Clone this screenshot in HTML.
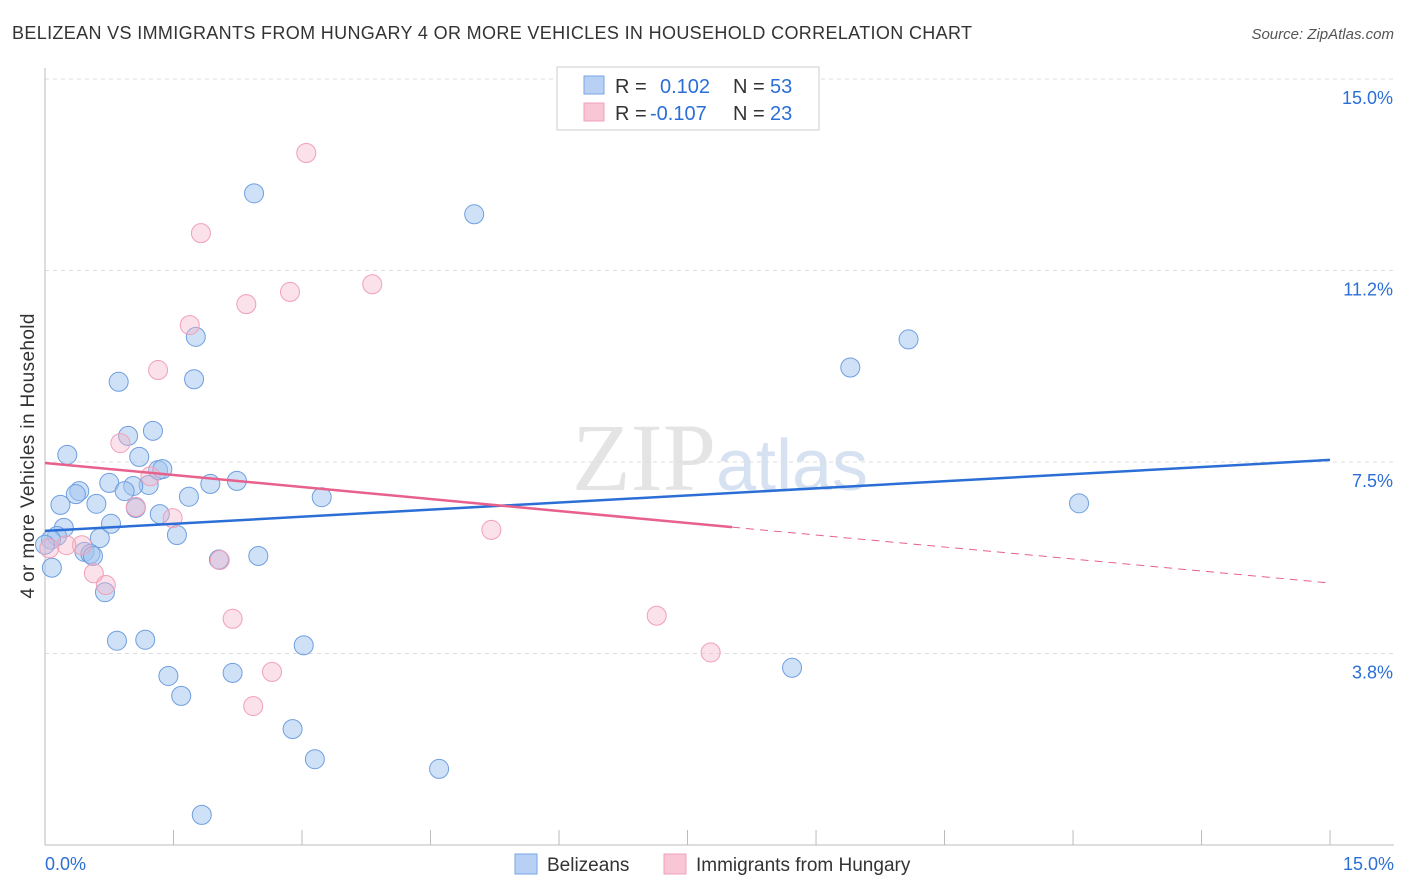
<!DOCTYPE html>
<html><head><meta charset="utf-8"><style>
body{margin:0;background:#fff;font-family:"Liberation Sans",sans-serif;}
svg{display:block}
</style></head><body>
<svg id="c" width="1406" height="892">
<text x="12" y="39" font-size="18" fill="#333" textLength="960" lengthAdjust="spacing">BELIZEAN VS IMMIGRANTS FROM HUNGARY 4 OR MORE VEHICLES IN HOUSEHOLD CORRELATION CHART</text>
<text x="1394" y="39" font-size="15" fill="#555" font-style="italic" text-anchor="end">Source: ZipAtlas.com</text>
<text x="720" y="490" font-size="96" fill="#e4e4e4" text-anchor="middle" font-family="Liberation Serif,serif">ZIP<tspan fill="#d6e2f2" font-family="Liberation Sans,sans-serif" font-size="72">atlas</tspan></text>
<text x="34" y="456" font-size="19" fill="#333" text-anchor="middle" textLength="285" transform="rotate(-90 34 456)">4 or more Vehicles in Household</text>
<g id="grid"></g><g id="marks"></g>
<g>
<rect x="557" y="67" width="262" height="63" fill="#fff" stroke="#ccc"/>
<rect x="584" y="76" width="20" height="18" fill="#b7d0f3" stroke="#7aa6e6"/>
<rect x="584" y="103" width="20" height="18" fill="#f8c6d4" stroke="#f0a0b8"/>
<text x="615" y="93" font-size="20" fill="#333">R = </text><text x="660" y="93" font-size="20" fill="#2b6fd6">0.102</text>
<text x="733" y="93" font-size="20" fill="#333">N = </text><text x="770" y="93" font-size="20" fill="#2b6fd6">53</text>
<text x="615" y="120" font-size="20" fill="#333">R = </text><text x="650" y="120" font-size="20" fill="#2b6fd6">-0.107</text>
<text x="733" y="120" font-size="20" fill="#333">N = </text><text x="770" y="120" font-size="20" fill="#2b6fd6">23</text>
</g>
<g>
<rect x="515" y="854" width="22" height="20" fill="#b7d0f3" stroke="#7aa6e6"/>
<text x="547" y="871" font-size="19" fill="#333">Belizeans</text>
<rect x="664" y="854" width="22" height="20" fill="#f8c6d4" stroke="#f0a0b8"/>
<text x="696" y="871" font-size="19" fill="#333">Immigrants from Hungary</text>
</g>
<text x="45" y="870" font-size="18" fill="#2b6fd6">0.0%</text>
<text x="1394" y="870" font-size="18" fill="#2b6fd6" text-anchor="end">15.0%</text>
</svg>
<script>
const yTicks=[15,11.25,7.5,3.75];
const yTickLabels=["15.0%","11.2%","7.5%","3.8%"];
const xTicks=[0,1.5,3,4.5,6,7.5,9,10.5,12,13.5,15];
const blueX=[2.44,5.01,10.08,9.40,1.76,0.86,1.74,0.26,0.97,1.26,1.10,1.32,1.37,1.21,0.75,1.03,0.93,0.40,0.36,0.18,0.60,1.06,1.34,1.68,1.93,2.24,3.23,12.07,0.77,0.22,0.14,0.07,0.64,1.54,0.46,0.53,0.56,2.03,2.49,0.08,0.70,0.84,1.17,3.02,8.72,1.44,2.19,1.59,2.89,3.15,4.60,1.83,0.0];
const blueY=[12.76,12.35,9.90,9.35,9.95,9.07,9.12,7.64,8.01,8.11,7.60,7.34,7.36,7.05,7.09,7.03,6.93,6.93,6.87,6.66,6.68,6.60,6.48,6.82,7.07,7.13,6.81,6.69,6.29,6.21,6.05,5.98,6.01,6.07,5.74,5.70,5.66,5.59,5.66,5.43,4.95,4.00,4.02,3.91,3.47,3.31,3.37,2.92,2.27,1.68,1.49,0.59,5.88];
const pinkX=[3.05,1.82,3.82,2.86,2.35,1.69,1.32,0.88,1.23,1.06,1.49,5.21,0.43,0.25,0.05,0.57,0.71,2.04,2.19,7.14,7.77,2.65,2.43];
const pinkY=[13.55,11.98,10.98,10.83,10.59,10.18,9.30,7.87,7.22,6.62,6.40,6.17,5.87,5.87,5.81,5.32,5.09,5.58,4.43,4.49,3.77,3.39,2.72];
const blueTrend=[6.15,7.54];
const pinkTrend=[7.48,5.13];
const pinkSolidEnd=8.02;
const X=v=>45+v*85.67, Y=v=>845-v*51.07;
const NS="http://www.w3.org/2000/svg";
function mk(p,t,a){const e=document.createElementNS(NS,t);for(const k in a)e.setAttribute(k,a[k]);p.appendChild(e);return e;}
const g=document.getElementById('grid'),m=document.getElementById('marks');
yTicks.forEach((t,i)=>{
 const l=mk(g,'line',{x1:45,x2:1394,y1:Y(t),y2:Y(t),stroke:'#ddd','stroke-dasharray':'4 4'});
 
 
 const tx=mk(g,'text',{x:1393,y:Y(t)+25,'font-size':18,fill:'#2b6fd6','text-anchor':'end'});tx.textContent=yTickLabels[i];
 
 
});
const ax=mk(g,'line',{x1:45,x2:1394,y1:845,y2:845,stroke:'#bbb'});


const ay=mk(g,'line',{x1:45,x2:45,y1:68,y2:845,stroke:'#bbb'});


xTicks.forEach(t=>{const l=mk(g,'line',{x1:X(t),x2:X(t),y1:830,y2:845,stroke:'#bbb'});
 
 });
blueX.forEach((v,i)=>{const c=mk(m,'circle',{cx:X(v),cy:Y(blueY[i]),r:9.5,fill:'rgba(160,196,240,0.5)',stroke:'#6f9fe0','stroke-width':1});
 
 });
pinkX.forEach((v,i)=>{const c=mk(m,'circle',{cx:X(v),cy:Y(pinkY[i]),r:9.5,fill:'rgba(245,180,200,0.4)',stroke:'#f0a0b8','stroke-width':1});
 
 });
const bl=mk(m,'line',{x1:X(0),y1:Y(blueTrend[0]),x2:X(15),y2:Y(blueTrend[1]),stroke:'#2b6fd6','stroke-width':2.5});


const pe=pinkTrend[0]+(pinkTrend[1]-pinkTrend[0])*pinkSolidEnd/15;
const pl=mk(m,'line',{x1:X(0),y1:Y(pinkTrend[0]),x2:X(pinkSolidEnd),y2:Y(pe),stroke:'#e8608c','stroke-width':2.5});


const pd=mk(m,'line',{x1:X(pinkSolidEnd),y1:Y(pe),x2:X(15),y2:Y(pinkTrend[1]),stroke:'#e8608c','stroke-width':1,'stroke-dasharray':'8 6'});


</script>
</body></html>
